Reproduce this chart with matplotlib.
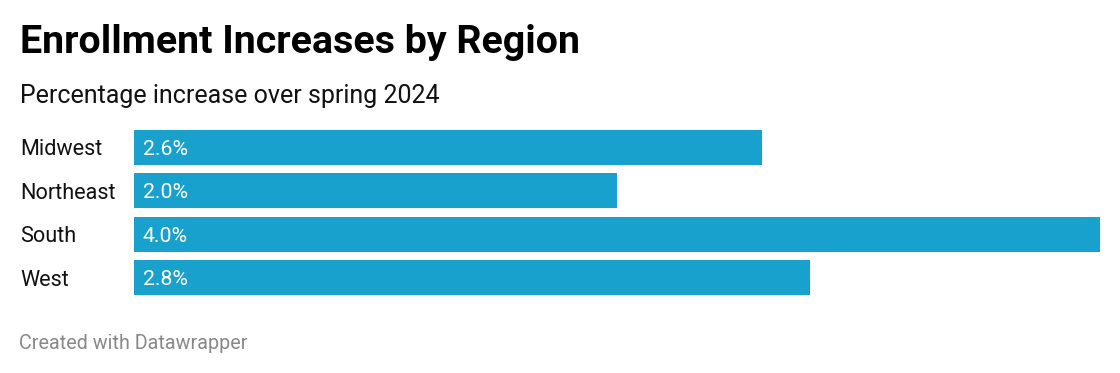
import matplotlib
matplotlib.use("Agg")
from matplotlib import pyplot as plt

plt.rcParams['font.family'] = ['Roboto', 'DejaVu Sans']

regions = ["Midwest", "Northeast", "South", "West"]
increase = [2.6, 2.0, 4.0, 2.8]
value_labels = ["2.6%", "2.0%", "4.0%", "2.8%"]

W, H = 1120, 373
fig = plt.figure(figsize=(W / 100, H / 100), dpi=100)

# axes placed in pixel terms: bars run x 134..1100, y 130..295
ax = fig.add_axes([134 / W, (H - 295) / H, (1100 - 134) / W, (295 - 130) / H])
bar_h = 0.805
ypos = range(len(regions))
ax.barh(ypos, increase, height=bar_h, color="#18a1cd")
ax.set_xlim(0, 4.0)
ax.set_ylim(len(regions) - 1 + bar_h / 2, -bar_h / 2)
ax.axis("off")

for i, (lab, txt) in enumerate(zip(regions, value_labels)):
    ax.text(0.037, i, txt, color="white", fontsize=15.3, va="center_baseline", ha="left")
    ax.annotate(lab, xy=(20 / W, i), xycoords=("figure fraction", "data"),
                fontsize=15.6, va="center_baseline", ha="left", color="#111111")

fig.text(20 / W, (H - 53) / H, "Enrollment Increases by Region", fontsize=28.4,
         fontweight="bold", va="baseline", ha="left", color="black")
fig.text(20 / W, (H - 103) / H, "Percentage increase over spring 2024", fontsize=18,
         va="baseline", ha="left", color="#111111")
fig.text(19 / W, (H - 349) / H, "Created with Datawrapper", fontsize=14.2,
         va="baseline", ha="left", color="#888888")

fig.savefig("out.png", dpi=100)
